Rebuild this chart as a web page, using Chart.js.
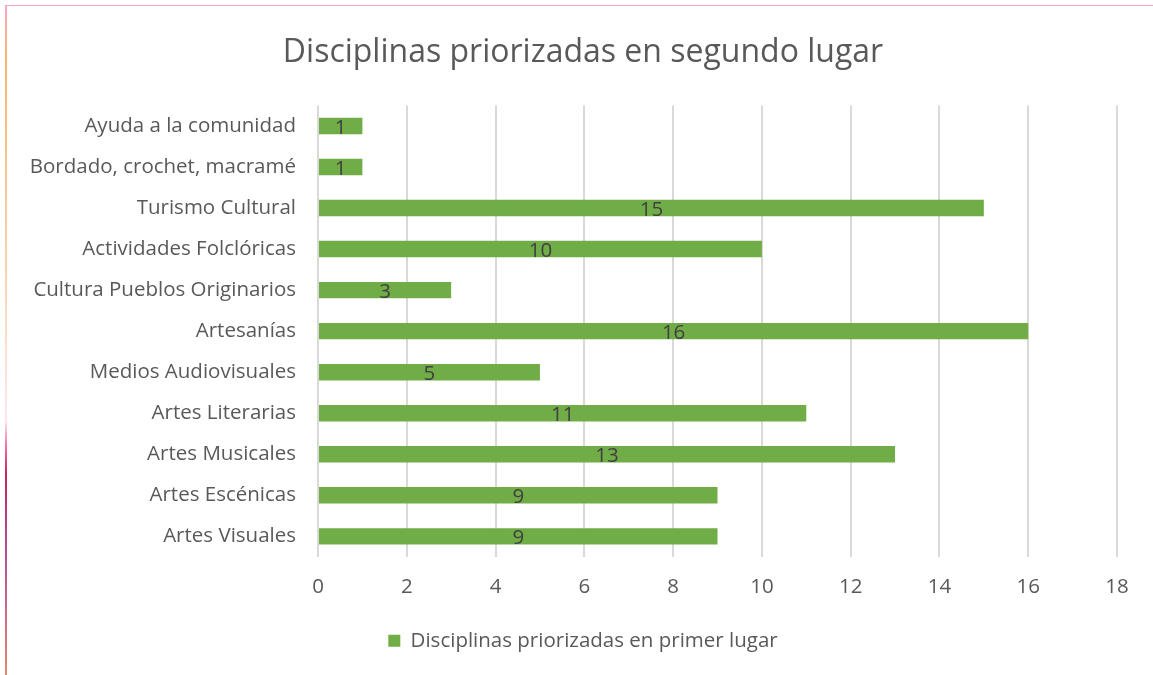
<!DOCTYPE html>
<html>
<head>
<meta charset="utf-8">
<script src="https://cdn.jsdelivr.net/npm/chart.js@4.4.1/dist/chart.umd.min.js"></script>
<style>
  html, body { margin: 0; padding: 0; background: #fff; }
  #wrap { position: relative; width: 1153px; height: 675px; }
  #frame { position: absolute; left: 5px; top: 5px; right: 0; bottom: 0;
    border-top: 1px solid #f4a3c0; }
  #edge { position: absolute; left: 5px; top: 5px; width: 2px; bottom: 0;
    background: linear-gradient(#f9a8c4 0%, #f7b56b 8%, #fbd3b0 40%, #fde8ef 62%, #f56aa0 66%, #c8225e 70%, #b4509a 82%, #e08a6e 100%); }
  canvas { position: absolute; left: 0; top: 0; }
</style>
</head>
<body>
<div id="wrap">
  <canvas id="myChart" width="1153" height="675"></canvas>
  <div id="frame"></div>
  <div id="edge"></div>
</div>
<script>
const categories = ['Ayuda a la comunidad', 'Bordado, crochet, macramé', 'Turismo Cultural', 'Actividades Folclóricas',
  'Cultura Pueblos Originarios', 'Artesanías', 'Medios Audiovisuales', 'Artes Literarias', 'Artes Musicales',
  'Artes Escénicas', 'Artes Visuales'];
const values = [1, 1, 15, 10, 3, 16, 5, 11, 13, 9, 9];
const seriesName = 'Disciplinas priorizadas en primer lugar';
const chartTitle = 'Disciplinas priorizadas en segundo lugar';

const fontFamily = '"Open Sans", "Noto Sans", sans-serif';
const labelSize = 20.5;

const barLabels = {
  id: 'barLabels',
  afterDatasetsDraw(chart) {
    const c = chart.ctx;
    const meta = chart.getDatasetMeta(0);
    c.save();
    c.font = labelSize + 'px ' + fontFamily;
    c.fillStyle = '#404040';
    c.textAlign = 'center';
    c.textBaseline = 'middle';
    meta.data.forEach((bar, i) => {
      c.fillText(String(values[i]), (bar.x + bar.base) / 2, bar.y + 2);
    });
    c.restore();
  }
};

const ctx = document.getElementById('myChart');

new Chart(ctx, {
  type: 'bar',
  data: {
    labels: categories,
    datasets: [{
      label: seriesName,
      data: values,
      backgroundColor: '#70ad47',
      barPercentage: 0.4,
      categoryPercentage: 1
    }]
  },
  plugins: [barLabels],
  options: {
    indexAxis: 'y',
    responsive: false,
    animation: false,
    layout: { padding: { top: 34, right: 0, left: 13, bottom: 14 } },
    plugins: {
      title: {
        display: true,
        text: chartTitle,
        color: '#595959',
        font: { family: fontFamily, size: 32, weight: 'normal' },
        padding: { top: 0, bottom: 33 }
      },
      legend: {
        position: 'bottom',
        labels: {
          color: '#595959',
          font: { family: fontFamily, size: labelSize },
          boxWidth: 12,
          boxHeight: 12,
          padding: 13
        }
      },
      tooltip: { enabled: false }
    },
    scales: {
      x: {
        min: 0,
        max: 18,
        ticks: { stepSize: 2, color: '#595959', font: { family: fontFamily, size: labelSize }, padding: 18 },
        grid: { color: '#d9d9d9', lineWidth: 2, drawTicks: false },
        border: { display: false }
      },
      y: {
        ticks: { color: '#595959', font: { family: fontFamily, size: labelSize }, padding: 22 },
        grid: { display: false, drawTicks: false },
        border: { display: false },
        afterFit(scale) { scale.width = 305; }
      },
      spacer: {
        type: 'linear',
        position: 'right',
        ticks: { display: false },
        grid: { display: false, drawTicks: false },
        border: { display: false },
        afterFit(scale) { scale.width = 36; }
      }
    }
  }
});
</script>
</body>
</html>
